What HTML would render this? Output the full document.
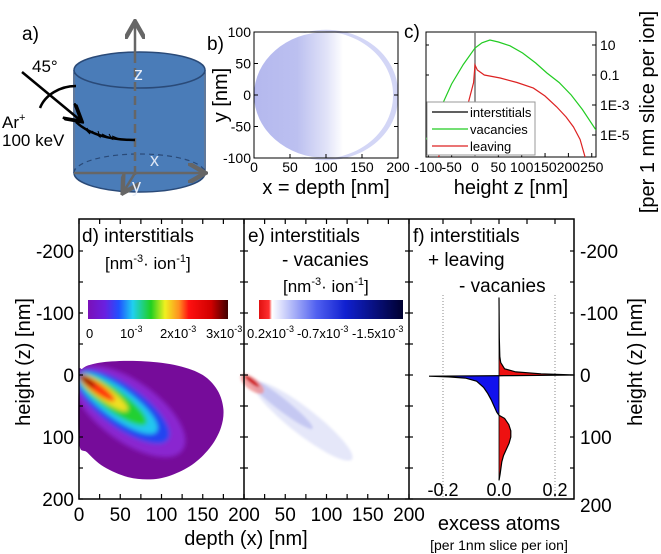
<!DOCTYPE html>
<html><head><meta charset="utf-8"><style>
html,body{margin:0;padding:0;background:#fff;}
svg{display:block;font-family:"Liberation Sans",sans-serif;}
</style></head><body>
<svg id="fig" width="661" height="554" viewBox="0 0 661 554" xmlns="http://www.w3.org/2000/svg">
<defs>
<linearGradient id="cbD" x1="0" x2="1" y1="0" y2="0">
<stop offset="0" stop-color="#7a10b8"/><stop offset="0.12" stop-color="#6a20e0"/><stop offset="0.22" stop-color="#2050ff"/><stop offset="0.32" stop-color="#20d0f0"/><stop offset="0.45" stop-color="#20d020"/><stop offset="0.55" stop-color="#f0f020"/><stop offset="0.65" stop-color="#ff9020"/><stop offset="0.72" stop-color="#ff1010"/><stop offset="0.88" stop-color="#d00000"/><stop offset="1" stop-color="#400000"/></linearGradient>
<linearGradient id="cbE" x1="0" x2="1" y1="0" y2="0">
<stop offset="0" stop-color="#e01010"/><stop offset="0.07" stop-color="#ff3030"/><stop offset="0.09" stop-color="#ffffff"/><stop offset="0.4" stop-color="#5060f0"/><stop offset="0.6" stop-color="#1020d0"/><stop offset="1" stop-color="#000030"/></linearGradient>
<linearGradient id="scat" x1="0" x2="1" y1="0" y2="0">
<stop offset="0" stop-color="#b4b8ee"/><stop offset="0.3" stop-color="#bcc0f0"/><stop offset="0.5" stop-color="#e0e2f8"/><stop offset="0.62" stop-color="#fff"/></linearGradient>
<filter id="blur3"><feGaussianBlur stdDeviation="2.5"/></filter>
<filter id="blur1"><feGaussianBlur stdDeviation="1.2"/></filter>
<clipPath id="blobClip"><path id="blobPathClip" d=""/></clipPath>
<clipPath id="cClip"><rect x="426" y="32" width="170" height="125"/></clipPath>
<marker id="arrG" markerWidth="8" markerHeight="8" refX="6" refY="4" orient="auto"><path d="M0,0 L7,4 L0,8" fill="none" stroke="#666" stroke-width="1.8"/></marker>
<marker id="arrK" markerWidth="8" markerHeight="8" refX="6" refY="4" orient="auto"><path d="M0,0 L7,4 L0,8" fill="none" stroke="#000" stroke-width="1.5"/></marker>
</defs>

<!-- Panel a -->
<g>
<text x="22" y="40" font-size="19">a)</text>
<ellipse cx="139.5" cy="173" rx="65.5" ry="19" fill="#4a7cb8" stroke="#2a4a78" stroke-width="1.5"/>
<rect x="75" y="70" width="129" height="103" fill="#4a7cb8"/>
<line x1="74" y1="70" x2="74" y2="173" stroke="#2a4a78" stroke-width="1.5"/>
<line x1="205" y1="70" x2="205" y2="173" stroke="#2a4a78" stroke-width="1.5"/>
<path d="M74,173 A65.5,19 0 0 1 205,173" fill="none" stroke="#2a4a78" stroke-width="1.2" stroke-dasharray="5,4"/>
<ellipse cx="139.5" cy="70" rx="65.5" ry="18" fill="#4a7cb8" stroke="#2a4a78" stroke-width="1.5"/>
<line x1="135" y1="175" x2="135" y2="60" stroke="#666" stroke-width="2.5" stroke-dasharray="9,5"/>
<line x1="135" y1="60" x2="135" y2="24" stroke="#666" stroke-width="2.5" marker-end="url(#arrG)"/>
<line x1="74" y1="173" x2="203" y2="173" stroke="#666" stroke-width="2.5" marker-end="url(#arrG)"/>
<line x1="135" y1="173" x2="124" y2="191" stroke="#666" stroke-width="2.5" marker-end="url(#arrG)"/>
<text x="134" y="80" font-size="18" fill="#e8eef8">z</text>
<text x="150" y="166" font-size="18" fill="#dde6f4">x</text>
<text x="132" y="192" font-size="18" fill="#e8eef8">y</text>
<text x="32" y="72" font-size="17">45°</text>
<path d="M76,86 C60,86 45,95 40,108" fill="none" stroke="#000" stroke-width="2.5"/>
<line x1="22" y1="72" x2="80" y2="120" stroke="#000" stroke-width="2.5" marker-end="url(#arrK)"/>
<text x="2" y="128" font-size="17">Ar<tspan font-size="11" dy="-7">+</tspan></text>
<text x="2" y="146" font-size="17">100 keV</text>
<path d="M76,122 C90,135 110,140 135,140" fill="none" stroke="#000" stroke-width="2.5"/>
<path d="M82,126 l8,8 l-3,-6 M92,131 l8,6 l-2,-6 M102,134 l10,5 l-3,-5 M112,136 l10,4" fill="none" stroke="#000" stroke-width="1"/>
</g>

<!-- Panel b -->
<g>
<text x="207" y="50" font-size="19">b)</text>
<ellipse cx="326" cy="95" rx="72" ry="63" fill="url(#scat)"/>
<path d="M300,34 A72,63 0 0 1 398,95 A72,63 0 0 1 300,156 A72,63 0 0 0 393,95 A72,63 0 0 0 300,34 Z" fill="#c8ccf4" opacity="0.8"/>
<g id="bAxes"></g>
<text x="326" y="194" font-size="20" text-anchor="middle">x = depth [nm]</text>
<text transform="translate(227,95) rotate(-90)" font-size="20" text-anchor="middle">y [nm]</text>
</g>

<!-- Panel c -->
<g>
<text x="404" y="38" font-size="19">c)</text>
<g id="cAxes"></g>
<g clip-path="url(#cClip)" id="cLines"></g>
<rect x="427" y="102" width="108" height="53" fill="#fff" stroke="#999" stroke-width="1"/>
<g><line x1="432" y1="112" x2="468" y2="112" stroke="#000" stroke-width="1.2"/><text x="470" y="117" font-size="13">interstitials</text></g>
<g><line x1="432" y1="129" x2="468" y2="129" stroke="#22cc22" stroke-width="1.2"/><text x="470" y="134" font-size="13">vacancies</text></g>
<g><line x1="432" y1="146" x2="468" y2="146" stroke="#dd2222" stroke-width="1.2"/><text x="470" y="151" font-size="13">leaving</text></g>
<text x="511" y="194" font-size="20" text-anchor="middle">height z [nm]</text>
<text transform="translate(654,112) rotate(-90)" font-size="20" text-anchor="middle">[per 1 nm slice per ion]</text>
</g>

<!-- Panel d -->
<g>
<path id="blobPath" d="" fill="#760c9a"/>
<g clip-path="url(#blobClip)" filter="url(#blur3)">
<g transform="translate(79,375) rotate(36)">
<ellipse cx="62" cy="0" rx="66" ry="30" fill="#8a28d0"/>
<ellipse cx="54" cy="0" rx="56" ry="21" fill="#2044f0"/>
<ellipse cx="48" cy="0" rx="48" ry="15" fill="#20c8f0"/>
<ellipse cx="42" cy="0" rx="41" ry="11" fill="#20d030"/>
<ellipse cx="30" cy="0" rx="30" ry="7" fill="#f0e020"/>
<ellipse cx="22" cy="0" rx="22" ry="5" fill="#ff3010"/>
<ellipse cx="10" cy="0" rx="10" ry="2.5" fill="#800000"/>
</g></g>
<rect x="88" y="300" width="140" height="19" fill="url(#cbD)"/>
<g font-size="13">
<text x="86" y="338">0</text><text x="120" y="338">10<tspan font-size="9" dy="-6">-3</tspan></text>
<text x="160" y="338">2x10<tspan font-size="9" dy="-6">-3</tspan></text><text x="206" y="338">3x10<tspan font-size="9" dy="-6">-3</tspan></text></g>
<text x="82" y="242" font-size="19">d) interstitials</text>
<text x="105" y="269" font-size="17">[nm<tspan font-size="11" dy="-7">-3</tspan><tspan dy="7">· ion</tspan><tspan font-size="11" dy="-7">-1</tspan><tspan dy="7">]</tspan></text>
</g>

<!-- Panel e -->
<g>
<g filter="url(#blur1)" transform="translate(244,375) rotate(38)">
<ellipse cx="75" cy="0" rx="62" ry="13" fill="#d4d7f5" opacity="0.6"/>
<ellipse cx="45" cy="0" rx="42" ry="6" fill="#b8bcf0" opacity="0.7"/>
<ellipse cx="12" cy="2" rx="14" ry="6" fill="#f09090" opacity="0.8"/>
<ellipse cx="10" cy="0" rx="9" ry="2" fill="#d01010"/>
</g>
<rect x="259" y="300" width="144" height="19" fill="url(#cbE)"/>
<g font-size="13">
<text x="247" y="338">0.2x10<tspan font-size="9" dy="-6">-3</tspan></text>
<text x="297" y="338">-0.7x10<tspan font-size="9" dy="-6">-3</tspan></text>
<text x="352" y="338">-1.5x10<tspan font-size="9" dy="-6">-3</tspan></text></g>
<text x="248" y="242" font-size="19">e) interstitials</text>
<text x="282" y="266" font-size="19">- vacanies</text>
<text x="283" y="292" font-size="17">[nm<tspan font-size="11" dy="-7">-3</tspan><tspan dy="7">· ion</tspan><tspan font-size="11" dy="-7">-1</tspan><tspan dy="7">]</tspan></text>
</g>

<!-- Panel f -->
<g>
<line x1="443" y1="295" x2="443" y2="499" stroke="#888" stroke-width="1" stroke-dasharray="1,2"/>
<line x1="555" y1="295" x2="555" y2="499" stroke="#888" stroke-width="1" stroke-dasharray="1,2"/>
<g id="fMarks"></g>
<g font-size="18">
<text x="443" y="496" text-anchor="middle">-0.2</text><text x="499" y="496" text-anchor="middle">0.0</text><text x="555" y="496" text-anchor="middle">0.2</text></g>
<text x="413" y="242" font-size="19">f) interstitials</text>
<text x="428" y="266" font-size="19">+ leaving</text>
<text x="459" y="292" font-size="19">- vacanies</text>
<text x="499" y="530" font-size="20" text-anchor="middle">excess atoms</text>
<text x="499" y="550" font-size="14" text-anchor="middle">[per 1nm slice per ion]</text>
</g>

<!-- Bottom frames -->
<g id="bottomAxes"></g>
<text transform="translate(30,362) rotate(-90)" font-size="20" text-anchor="middle">height (z) [nm]</text>
<text transform="translate(642,362) rotate(-90)" font-size="20" text-anchor="middle">height (z) [nm]</text>
<text x="246" y="545" font-size="20" text-anchor="middle">depth (x) [nm]</text>
</svg>

<script>
// ---- Panel c data ----
var greenZ = [-105,-75,-50,-25,0,15,32,50,75,102,130,154,180,206,230,259];
var greenLog = [-5.3,-3.3,-1.6,-0.3,0.8,1.15,1.33,1.2,0.95,0.47,-0.2,-0.87,-1.5,-2.33,-3.3,-4.67];
var redZ = [-79,-50,-30,-14,-3,0,5,20,54,90,125,150,175,195,211,225,236];
var redLog = [-6.5,-4.8,-3.8,-2.8,-1.5,-0.33,-0.67,-1.0,-1.2,-1.5,-1.87,-2.4,-3.13,-3.8,-4.47,-5.3,-6.5];
var cXTicks = [-100,-50,0,50,100,150,200,250];
var cYTicks = [1,-1,-3,-5];
var cYLabels = ["10","0.1","1E-3","1E-5"];
// ---- Panel b ticks ----
var bXTicks = [0,50,100,150,200];
var bYTicks = [100,50,0,-50,-100];
// ---- Panel f data ----
var fZ = [-125,-60,-30,-20,-10,-5,-2,0,1,2,3,5,10,20,30,40,50,60,65,70,80,90,100,110,120,130,140,160,170];
var fVal = [0,0.001,0.003,0.006,0.02,0.06,0.15,0.27,0.05,-0.25,-0.18,-0.12,-0.08,-0.055,-0.04,-0.028,-0.018,-0.008,0,0.02,0.035,0.042,0.042,0.036,0.026,0.016,0.01,0.004,0];
// ---- Bottom axis ticks ----
var zTicks = [-200,-100,0,100,200];
var depthTicks = [0,50,100,150,200];
// ---- Panel d blob outline (nm) ----
var blobX = [0,4,15,40,80,120,150,168,175,172,160,140,115,90,60,30,10,0];
var blobZ = [0,-10,-17,-22,-22,-15,0,25,55,85,115,142,160,168,165,148,125,108];

var NS = "http://www.w3.org/2000/svg";
function mk(tag, attrs, parent){var e=document.createElementNS(NS,tag);for(var k in attrs)e.setAttribute(k,attrs[k]);parent.appendChild(e);return e;}

// c axes
function cX(z){return 475 + z*0.467;}
function cY(l){return 45 - 15*(l-1);}
var cA=document.getElementById('cAxes');
mk('rect',{x:426,y:32,width:170,height:125,fill:'none',stroke:'#000','stroke-width':1},cA);
cXTicks.forEach(function(t){
  mk('line',{x1:cX(t),y1:157,x2:cX(t),y2:153,stroke:'#000'},cA);
  var tx=mk('text',{x:cX(t),y:172,'font-size':14,'text-anchor':'middle'},cA);tx.textContent=t;
  
  
});
cYTicks.forEach(function(t,i){
  mk('line',{x1:596,y1:cY(t),x2:592,y2:cY(t),stroke:'#000'},cA);
  mk('line',{x1:426,y1:cY(t),x2:429,y2:cY(t),stroke:'#000'},cA);
  var tx=mk('text',{x:600,y:cY(t)+5,'font-size':14},cA);tx.textContent=cYLabels[i];
  
  
});
var cL=document.getElementById('cLines');
mk('line',{x1:cX(0),y1:32,x2:cX(0),y2:157,stroke:'#777','stroke-width':1.5},cL);
function series(zs,ls,col,name){
  var d=zs.map(function(z,i){return (i?'L':'M')+cX(z).toFixed(1)+','+cY(ls[i]).toFixed(1);}).join(' ');
  var p=mk('path',{d:d,fill:'none',stroke:col,'stroke-width':1.2},cL);
  
  
}
series(greenZ,greenLog,'#22cc22','vacancies-line');
series(redZ,redLog,'#dd2222','leaving-line');

// b axes
function bX(x){return 254 + x*0.72;}
function bY(y){return 95 - y*0.63;}
var bA=document.getElementById('bAxes');
mk('rect',{x:254,y:32,width:144,height:126,fill:'none',stroke:'#000','stroke-width':1},bA);
bXTicks.forEach(function(t){
  mk('line',{x1:bX(t),y1:158,x2:bX(t),y2:154,stroke:'#000'},bA);
  var tx=mk('text',{x:bX(t),y:172,'font-size':14,'text-anchor':'middle'},bA);tx.textContent=t;
  
  
});
bYTicks.forEach(function(t){
  mk('line',{x1:254,y1:bY(t),x2:258,y2:bY(t),stroke:'#000'},bA);
  mk('line',{x1:398,y1:bY(t),x2:394,y2:bY(t),stroke:'#000'},bA);
  var tx=mk('text',{x:251,y:bY(t)+5,'font-size':14,'text-anchor':'end'},bA);tx.textContent=t;
  
  
});

// bottom axes
function dX(x,off){return off + x*0.825;}
function Z(z){return 375 + z*0.62;}
var bo=document.getElementById('bottomAxes');
mk('rect',{x:79,y:219,width:495,height:280,fill:'none',stroke:'#000','stroke-width':1.5},bo);
mk('line',{x1:244,y1:219,x2:244,y2:499,stroke:'#000','stroke-width':1.5},bo);
mk('line',{x1:409,y1:219,x2:409,y2:499,stroke:'#000','stroke-width':1.5},bo);
[-200,-150,-100,-50,0,50,100,150,200].forEach(function(t){
  var y=Z(t);
  [79,244,409].forEach(function(x){mk('line',{x1:x-(x==79?0:4),y1:y,x2:x+4,y2:y,stroke:'#000','stroke-width':1.2},bo);});
  mk('line',{x1:574,y1:y,x2:570,y2:y,stroke:'#000','stroke-width':1.2},bo);
});
zTicks.forEach(function(t){
  var tx=mk('text',{x:74,y:Z(t)+7,'font-size':19,'text-anchor':'end'},bo);tx.textContent=t;
  
  
  var tx2=mk('text',{x:580,y:Z(t)+(t==200?13:7),'font-size':19},bo);tx2.textContent=t;
  
  
});
[0,25,50,75,100,125,150,175,200].forEach(function(t){
  [79,244].forEach(function(off){mk('line',{x1:dX(t,off),y1:499,x2:dX(t,off),y2:494,stroke:'#000','stroke-width':1.2},bo);
  mk('line',{x1:dX(t,off),y1:219,x2:dX(t,off),y2:224,stroke:'#000','stroke-width':1.2},bo);});
});
[0,-0.1,-0.2,0.1,0.2].forEach(function(v){var x=499+v*280;mk('line',{x1:x,y1:219,x2:x,y2:224,stroke:'#000','stroke-width':1.2},bo);});
[79,244].forEach(function(off,j){
  depthTicks.forEach(function(t,i){
    if(j==1 && i==0) return;
    var tx=mk('text',{x:dX(t,off),y:521,'font-size':19,'text-anchor':'middle'},bo);tx.textContent=t;
    
    
  });
});

// d blob (smoothed closed curve through outline points)
function smoothClosed(px,py){
  var n=px.length, d='M'+px[0].toFixed(1)+','+py[0].toFixed(1);
  px.forEach(function(_,i){
    var p0=i, p1=(i+1)%n, pm=(i-1+n)%n, p2=(i+2)%n;
    var c1x=px[p0]+(px[p1]-px[pm])/6, c1y=py[p0]+(py[p1]-py[pm])/6;
    var c2x=px[p1]-(px[p2]-px[p0])/6, c2y=py[p1]-(py[p2]-py[p0])/6;
    d+=' C'+c1x.toFixed(1)+','+c1y.toFixed(1)+' '+c2x.toFixed(1)+','+c2y.toFixed(1)+' '+px[p1].toFixed(1)+','+py[p1].toFixed(1);
  });
  return d+' Z';
}
var bpx=blobX.map(function(x){return Math.max(79,dX(x,79));});
var bpy=blobZ.map(function(z){return Z(z);});
var bd=smoothClosed(bpx,bpy);
document.getElementById('blobPath').setAttribute('d',bd);
document.getElementById('blobPathClip').setAttribute('d',bd);

// f profile
function fx(v){return 499 + v*280;}
var fM=document.getElementById('fMarks');
var pos='M'+fx(0)+','+Z(fZ[0]), neg='M'+fx(0)+','+Z(fZ[0]);
fZ.forEach(function(z,i){var v=fVal[i];pos+=' L'+fx(Math.max(v,0)).toFixed(1)+','+Z(z).toFixed(1);neg+=' L'+fx(Math.min(v,0)).toFixed(1)+','+Z(z).toFixed(1);});
pos+=' L'+fx(0)+','+Z(fZ[fZ.length-1])+' Z'; neg+=' L'+fx(0)+','+Z(fZ[fZ.length-1])+' Z';
var pp=mk('path',{d:pos,fill:'#ee1111'},fM);


var np=mk('path',{d:neg,fill:'#1111ee'},fM);


var ol=fZ.map(function(z,i){return (i?'L':'M')+fx(fVal[i]).toFixed(1)+','+Z(z).toFixed(1);}).join(' ');
var lp=mk('path',{d:ol,fill:'none',stroke:'#000','stroke-width':1.2},fM);


mk('line',{x1:fx(0),y1:Z(-125),x2:fx(0),y2:Z(170),stroke:'#000','stroke-width':0.8},fM);
</script>
</body></html>
